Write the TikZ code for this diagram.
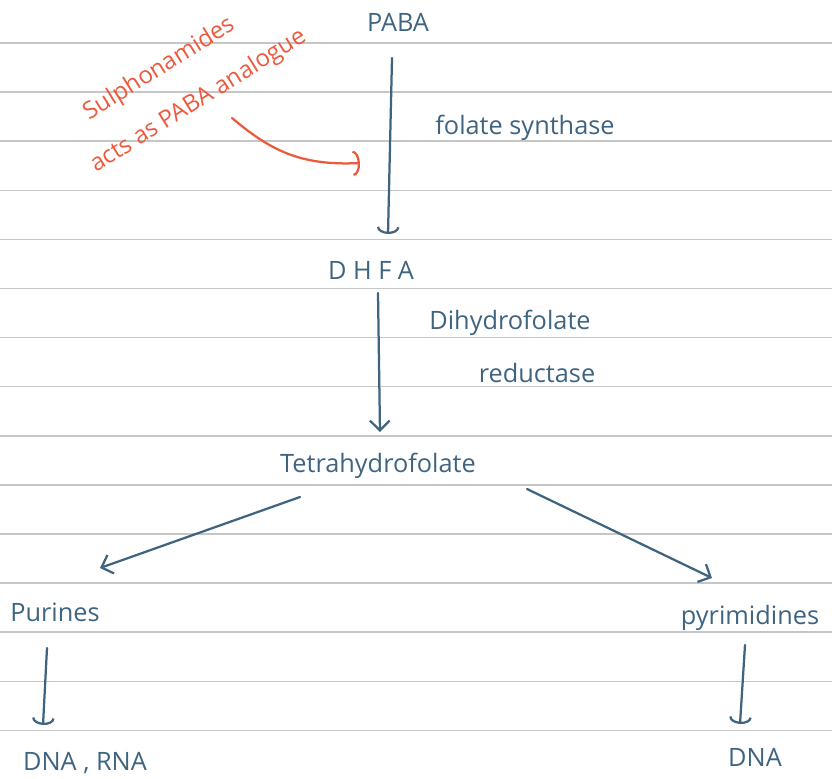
\documentclass[tikz,border=0pt]{standalone}
\usepackage{fontspec}
\setmainfont{Open Sans}
\usetikzlibrary{arrows.meta,calc}
\definecolor{ink}{HTML}{3F6480}
\definecolor{redink}{HTML}{EC5A3E}
\definecolor{ruling}{HTML}{C6C6C6}
\tikzset{
  hw/.style={text=ink,font=\fontsize{18}{21}\selectfont,inner sep=1pt},
  redhw/.style={hw,text=redink,font=\fontsize{17}{34}\selectfont},
  flow/.style={draw=ink,line width=1.6pt,line cap=round,line join=round,
    -{Straight Barb[length=7pt,width=14pt]}},
  cupflow/.style={flow,-{Arc Barb[length=5pt,width=16pt]}},
  redflow/.style={flow,draw=redink,-{Arc Barb[length=5pt,width=18pt]}}
}
\begin{document}
\begin{tikzpicture}[x=0.025cm,y=-0.025cm]
\useasboundingbox (0,0) rectangle (832,778);
% ruled paper
\foreach \k in {0,...,14}
  \draw[ruling,line width=1.1pt] (0,{43+49.1*\k}) -- (832,{43+49.1*\k});

% pathway
\node[hw] (paba) at (398,22) {PABA};
\node[hw] (dhfa) at (371,270) {D H F A};
\node[hw] (thf) at (378,466) {Tetrahydrofolate};
\node[hw] (purines) at (55,612) {Purines};
\node[hw] (pyr) at (750,618) {pyrimidines};
\node[hw] (dnarna) at (85,763) {DNA , RNA};
\node[hw] (dna) at (755,757) {DNA};

% enzymes
\node[hw] (fs) at (525,128) {folate synthase};
\node[hw] (dhfrA) at (510,323) {Dihydrofolate};
\node[hw] (dhfrB) at (537,373) {reductase};

% sulphonamide note
\node[redhw,rotate=32,align=left] (sulfa) at (186,81)
  {\hspace*{0.55cm}Sulphonamides\\acts as PABA analogue};
\coordinate (target) at (360,163);

\draw[cupflow] ($(paba)+(-6,36)$) -- ($(dhfa)+(17,-36)$);
\draw[flow] ($(dhfa)+(7,23)$) -- ($(thf)+(2,-34)$);
\draw[flow] ($(thf)+(-78,31)$) -- ($(purines)+(45,-44)$);
\draw[flow] ($(thf)+(149,23)$) -- ($(pyr)+(-38,-40)$);
\draw[cupflow] ($(purines)+(-8,36)$) -- ($(dnarna)+(-42,-38)$);
\draw[cupflow] ($(pyr)+(-5,27)$) -- ($(dna)+(-15,-33)$);
\draw[redflow] ($(sulfa)+(46,37)$) .. controls (270,150) and (300,166) .. (target);
\end{tikzpicture}
\end{document}
